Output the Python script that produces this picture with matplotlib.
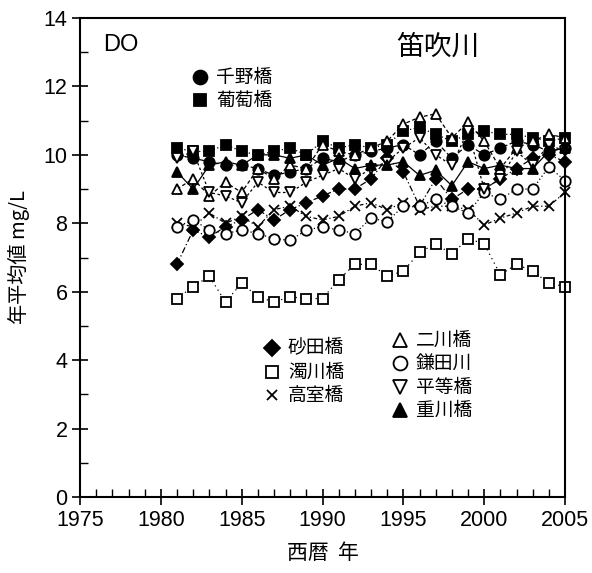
"""
DO annual mean at the Fuefuki river stations, 1981-2005.

Output:
    out.png
"""

import matplotlib
matplotlib.use("Agg")
import matplotlib.pyplot as plt
from matplotlib.ticker import MultipleLocator

plt.rcParams["font.family"] = ["Liberation Sans", "Noto Sans CJK JP", "DejaVu Sans"]
JP = ["Noto Sans CJK JP", "DejaVu Sans"]

YEARS = list(range(1981, 2006))

# station name -> annual mean DO (mg/L)
CHINO = [10.0, 9.9, 9.8, 9.7, 9.7, 9.6, 9.4, 9.5, 9.6, 9.9, 9.8, 10.0, 10.1,
         10.2, 10.3, 10.0, 10.4, 9.9, 10.3, 10.0, 10.2, 10.4, 10.3, 10.1, 10.2]
BUDOU = [10.2, 10.1, 10.1, 10.3, 10.1, 10.0, 10.1, 10.2, 10.0, 10.4, 10.2, 10.3, 10.2,
         10.3, 10.7, 10.8, 10.6, 10.4, 10.6, 10.7, 10.6, 10.6, 10.5, 10.4, 10.5]
SUNADA = [6.8, 7.8, 7.6, 7.9, 8.1, 8.4, 8.1, 8.4, 8.6, 8.8, 9.0, 9.0, 9.3,
          9.9, 9.5, 8.5, 9.3, 8.7, 9.0, 9.0, 9.3, 9.6, 9.9, 10.0, 9.8]
NIGORI = [5.8, 6.15, 6.45, 5.7, 6.25, 5.85, 5.7, 5.85, 5.8, 5.8, 6.35, 6.8, 6.8,
          6.45, 6.6, 7.15, 7.4, 7.1, 7.55, 7.4, 6.5, 6.8, 6.6, 6.25, 6.15]
TAKAMURO = [8.0, 7.9, 8.3, 8.0, 8.2, 7.9, 8.4, 8.5, 8.2, 8.1, 8.2, 8.5, 8.6,
            8.4, 8.6, 8.4, 8.5, 8.5, 8.4, 7.95, 8.15, 8.3, 8.5, 8.5, 8.9]
FUTAKAWA = [9.0, 9.3, 8.8, 9.2, 8.9, 9.6, 9.3, 9.7, 9.6, 10.3, 10.1, 10.0, 10.2,
            10.4, 10.9, 11.1, 11.2, 10.5, 10.95, 10.4, 9.6, 10.2, 10.4, 10.6, 10.5]
KAMATA = [7.9, 8.1, 7.8, 7.7, 7.8, 7.7, 7.55, 7.5, 7.8, 7.9, 7.8, 7.7, 8.15,
          8.05, 8.5, 8.5, 8.7, 8.5, 8.3, 8.9, 8.7, 9.0, 9.0, 9.65, 9.25]
BYOUDOU = [9.9, 10.1, 8.9, 8.8, 8.6, 9.2, 8.9, 8.9, 9.2, 9.4, 9.6, 9.3, 9.6,
           9.8, 10.2, 10.5, 10.0, 9.7, 10.7, 9.0, 9.3, 10.1, 9.7, 10.3, 10.1]
OMOKAWA = [9.5, 9.0, 9.7, 9.8, 9.7, 10.0, 10.0, 9.9, 10.0, 9.7, 9.9, 9.6, 9.7,
           9.7, 9.8, 9.4, 9.55, 9.1, 9.8, 9.6, 9.7, 9.6, 9.6, 10.1, 10.2]

# (label, values, marker, filled, dash pattern)
SERIES = [
    ("千野橋", CHINO, "o", True, (4, 2)),
    ("葡萄橋", BUDOU, "s", True, (1, 2)),
    ("砂田橋", SUNADA, "D", True, (5, 2, 1, 2)),
    ("濁川橋", NIGORI, "s", False, (1, 3)),
    ("高室橋", TAKAMURO, "x", False, (3, 2, 1, 2)),
    ("二川橋", FUTAKAWA, "^", False, (3, 2)),
    ("鎌田川", KAMATA, "o", False, (1, 2)),
    ("平等橋", BYOUDOU, "v", False, (2, 2)),
    ("重川橋", OMOKAWA, "^", True, None),
]


def px_to_axes(px, py):
    """Convert reference pixel position to axes fraction."""
    return (px - 80) / 485, (497 - py) / 479


def legend_entry(ax, px, py, marker, filled, label, ms=10):
    x, y = px_to_axes(px, py)
    ax.plot([x], [y], marker=marker, ms=ms, color="black",
            mfc="black" if filled else "white", mew=1.3,
            transform=ax.transAxes, clip_on=False)
    tx, _ = px_to_axes(px + 16, py)
    ax.text(tx, y, label, transform=ax.transAxes, fontsize=13.5,
            family=JP, va="center", ha="left")


fig = plt.figure(figsize=(5.92, 5.73), dpi=100)
ax = fig.add_axes([80 / 592, 1 - 497 / 573, 485 / 592, 479 / 573])

for label, vals, marker, filled, dash in SERIES:
    line, = ax.plot(YEARS, vals, color="black", lw=0.9, marker=marker,
                    ms=7.5 if marker != "D" else 6.5,
                    mfc="black" if filled else "white", mec="black",
                    mew=1.3, clip_on=False)
    if dash is not None:
        line.set_dashes(dash)

ax.set_xlim(1975, 2005)
ax.set_ylim(0, 14)
ax.xaxis.set_major_locator(MultipleLocator(5))
ax.xaxis.set_minor_locator(MultipleLocator(1))
ax.yaxis.set_major_locator(MultipleLocator(2))
ax.yaxis.set_minor_locator(MultipleLocator(1))
ax.tick_params(which="major", direction="inout", length=12, width=1.2,
               labelsize=15.5, pad=3)
ax.tick_params(which="minor", direction="in", length=6, width=1.0)
for s in ax.spines.values():
    s.set_linewidth(1.5)

ax.set_xlabel("西暦  年", family=JP, fontsize=15, labelpad=8)
ax.set_ylabel("年平均値 mg/L", family=JP, fontsize=14.5, labelpad=10)

ax.text(*px_to_axes(103, 45), "DO", transform=ax.transAxes,
        fontsize=17, va="center", ha="left")
ax.text(*px_to_axes(438, 47), "笛吹川", transform=ax.transAxes,
        fontsize=20, family=JP, va="center", ha="center")

# legend blocks
legend_entry(ax, 200, 77, "o", True, "千野橋")
legend_entry(ax, 200, 100, "s", True, "葡萄橋", ms=9)
legend_entry(ax, 272, 348, "D", True, "砂田橋", ms=8)
legend_entry(ax, 272, 372, "s", False, "濁川橋", ms=9)
legend_entry(ax, 272, 395, "x", False, "高室橋", ms=7)
legend_entry(ax, 400, 340, "^", False, "二川橋")
legend_entry(ax, 400, 363, "o", False, "鎌田川")
legend_entry(ax, 400, 387, "v", False, "平等橋")
legend_entry(ax, 400, 410, "^", True, "重川橋")

fig.savefig("out.png", dpi=100)
